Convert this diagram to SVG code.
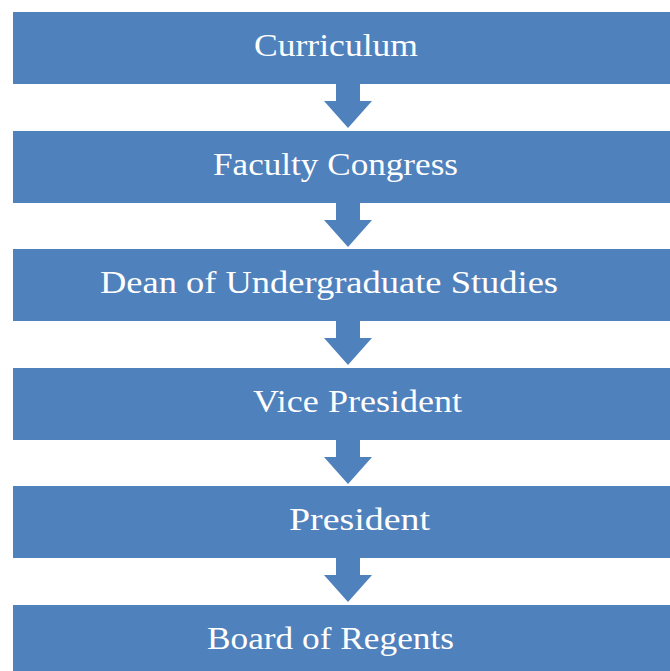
<svg xmlns="http://www.w3.org/2000/svg" width="670" height="671" viewBox="0 0 670 671">
<style>
.box{fill:#4F81BD;}
.arr{fill:#4F81BD;}
.t{font-family:"Liberation Serif","DejaVu Serif",serif;font-size:32px;fill:#FFFFFF;}
</style>
<defs>
<path id="ar" class="arr" d="M336,0 H360 V17 H372 L348,44 L324,17 H336 Z"/>
</defs>
<rect width="670" height="671" fill="#FFFFFF"/>
<g id="connectors">
<use href="#ar" y="84"/>
<use href="#ar" y="203"/>
<use href="#ar" y="321"/>
<use href="#ar" y="440"/>
<use href="#ar" y="558"/>
</g>
<g id="n1"><rect class="box" x="13" y="12" width="657" height="72"/><text class="t" x="254" y="56" textLength="164" lengthAdjust="spacingAndGlyphs">Curriculum</text></g>
<g id="n2"><rect class="box" x="13" y="131" width="657" height="72"/><text class="t" x="213" y="175" textLength="245" lengthAdjust="spacingAndGlyphs">Faculty Congress</text></g>
<g id="n3"><rect class="box" x="13" y="249" width="657" height="72"/><text class="t" x="100" y="293" textLength="458" lengthAdjust="spacingAndGlyphs">Dean of Undergraduate Studies</text></g>
<g id="n4"><rect class="box" x="13" y="368" width="657" height="72"/><text class="t" x="253" y="412" textLength="209" lengthAdjust="spacingAndGlyphs">Vice President</text></g>
<g id="n5"><rect class="box" x="13" y="486" width="657" height="72"/><text class="t" x="289" y="530" textLength="141" lengthAdjust="spacingAndGlyphs">President</text></g>
<g id="n6"><rect class="box" x="13" y="605" width="657" height="72"/><text class="t" x="207" y="649" textLength="247" lengthAdjust="spacingAndGlyphs">Board of Regents</text></g>
</svg>
